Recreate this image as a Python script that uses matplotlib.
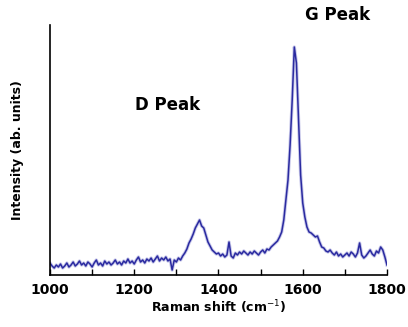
import numpy as np
import matplotlib
matplotlib.use("Agg")
import matplotlib.pyplot as plt

# Raman shift (cm^-1), 5 cm^-1 steps
shift = list(range(1000, 1801, 5))
# intensity (arbitrary units)
intensity = [
    12, 9, 7, 10, 8, 11, 7, 9, 12, 8, 10, 13, 9, 11, 14, 10, 12, 9, 13, 11,
    8, 12, 15, 10, 12, 9, 14, 11, 13, 10, 12, 15, 11, 13, 10, 14, 12, 16, 12, 14,
    11, 15, 18, 13, 15, 12, 16, 14, 17, 13, 16, 19, 14, 17, 15, 18, 14, 16, 5, 15,
    13, 17, 15, 19, 22, 26, 32, 36, 41, 47, 51, 55, 49, 47, 40, 33, 29, 25, 23, 21,
    22, 19, 21, 18, 20, 33, 19, 17, 22, 20, 23, 21, 24, 22, 20, 23, 21, 24, 22, 20,
    23, 25, 22, 26, 25, 28, 30, 32, 34, 38, 43, 55, 75, 95, 130, 175, 228, 212, 155, 100,
    72, 58, 48, 43, 42, 40, 38, 39, 33, 28, 27, 24, 23, 25, 22, 20, 23, 19, 21, 18,
    20, 22, 19, 23, 21, 18, 22, 32, 20, 17, 19, 22, 25, 21, 19, 24, 22, 28, 25, 18,
    10,
]

xticks = [1000, 1200, 1400, 1600, 1800]
xtick_labels = ["1000", "1200", "1400", "1600", "1800"]

fig = plt.figure(figsize=(4.08, 3.27), dpi=100)
ax = fig.add_axes([0.1225, 0.159, 0.826, 0.7645])

ax.plot(shift, intensity, color="#9a9ad8", lw=2.4, alpha=0.55, solid_joinstyle="round")
ax.plot(shift, intensity, color="#2a2aa0", lw=1.1, solid_joinstyle="round")

ax.set_xlim(1000, 1800)
ax.set_ylim(0, 250)

ax.spines["top"].set_visible(False)
ax.spines["right"].set_visible(False)
ax.spines["left"].set_linewidth(1.2)
ax.spines["bottom"].set_linewidth(1.2)

ax.set_yticks([])
ax.set_xticks(xticks)
ax.set_xticklabels(xtick_labels, fontsize=10, fontweight="bold")
ax.set_xticks(range(1000, 1801, 100), minor=True)
ax.tick_params(axis="x", which="both", direction="in", length=4, width=1.0, pad=6)

ax.set_xlabel("Raman shift (cm$^{-1}$)", fontsize=9, fontweight="bold", labelpad=1)
ax.set_ylabel("Intensity (ab. units)", fontsize=9, fontweight="bold", labelpad=19)

ax.text(1202, 170, "D Peak", fontsize=12, fontweight="bold", va="center", ha="left")
ax.text(1605, 260, "G Peak", fontsize=12, fontweight="bold", va="center", ha="left", clip_on=False)

fig.savefig("out.png", dpi=100)
